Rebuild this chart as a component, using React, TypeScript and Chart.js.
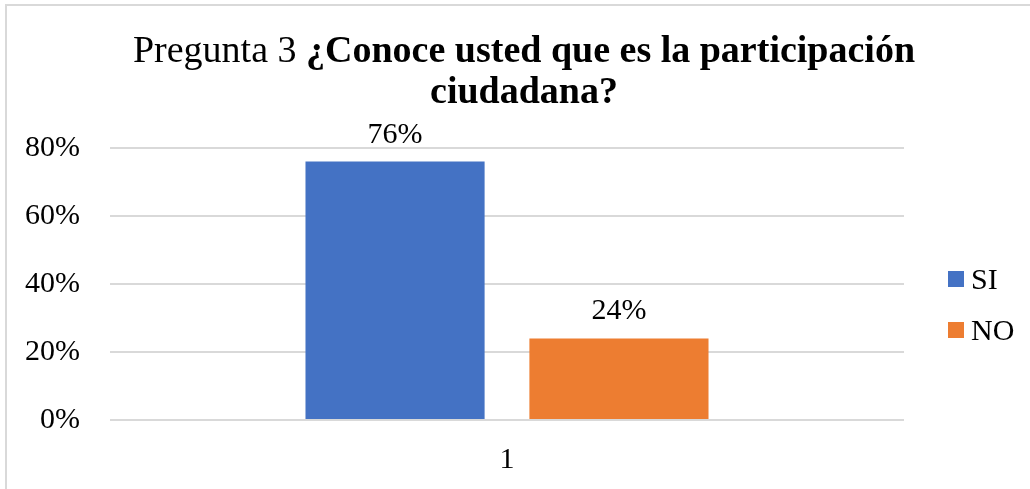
import React, { useEffect, useRef } from "react";
import { Chart, registerables } from "chart.js";

Chart.register(...registerables);

const categories = ["1"];
const seriesLabels = ["SI", "NO"];
const siValues = [0.76];
const noValues = [0.24];
const seriesColors = ["#4472C4", "#ED7D31"];
const yTickValues = [0, 0.2, 0.4, 0.6, 0.8];
const titlePlain = "Pregunta 3 ";
const titleBoldLine1 = "¿Conoce usted que es la participación";
const titleBoldLine2 = "ciudadana?";

const FONT = "'Liberation Serif', 'Times New Roman', serif";

const pct = (v: number) => `${Math.round(v * 100)}%`;

const dataLabelPlugin = {
  id: "dataLabels",
  afterDatasetsDraw(chart: any) {
    const ctx = chart.ctx;
    ctx.save();
    ctx.font = `30px ${FONT}`;
    ctx.fillStyle = "#000";
    ctx.textAlign = "center";
    ctx.textBaseline = "alphabetic";
    chart.data.datasets.forEach((ds: any, di: number) => {
      const meta = chart.getDatasetMeta(di);
      meta.data.forEach((bar: any, i: number) => {
        ctx.fillText(pct(ds.data[i]), bar.x, bar.y - 19);
      });
    });
    ctx.restore();
  },
};

const sideLegendPlugin = {
  id: "sideLegend",
  afterDraw(chart: any) {
    const ctx = chart.ctx;
    const area = chart.chartArea;
    const x = area.right + 44;
    const top = area.top + 123;
    ctx.save();
    ctx.font = `30px ${FONT}`;
    ctx.textAlign = "left";
    ctx.textBaseline = "alphabetic";
    chart.data.datasets.forEach((ds: any, i: number) => {
      const y = top + i * 51;
      ctx.fillStyle = ds.backgroundColor;
      ctx.fillRect(x, y, 16, 16);
      ctx.fillStyle = "#000";
      ctx.fillText(ds.label, x + 23, y + 18);
    });
    ctx.restore();
  },
};

export default function App() {
  const canvasRef = useRef<HTMLCanvasElement | null>(null);

  useEffect(() => {
    if (!canvasRef.current) return;
    const chart = new Chart(canvasRef.current, {
      type: "bar",
      data: {
        labels: categories,
        datasets: [
          {
            label: seriesLabels[0],
            data: siValues,
            backgroundColor: seriesColors[0],
            categoryPercentage: 0.564,
            barPercentage: 0.8,
          },
          {
            label: seriesLabels[1],
            data: noValues,
            backgroundColor: seriesColors[1],
            categoryPercentage: 0.564,
            barPercentage: 0.8,
          },
        ],
      },
      options: {
        responsive: false,
        animation: false,
        layout: { padding: { top: 148, right: 126, left: 0, bottom: 0 } },
        plugins: {
          legend: { display: false },
          title: { display: false },
          tooltip: { enabled: false },
        },
        scales: {
          x: {
            grid: { display: false, drawTicks: false },
            border: { display: false },
            ticks: {
              padding: 22,
              color: "#000",
              font: { family: FONT, size: 30 },
            },
            afterFit: (s: any) => {
              s.height = 69;
            },
          },
          y: {
            min: 0,
            max: 0.8,
            afterBuildTicks: (s: any) => {
              s.ticks = yTickValues.map((v) => ({ value: v }));
            },
            grid: { color: "#d9d9d9", lineWidth: 2, drawTicks: false },
            border: { display: false },
            ticks: {
              padding: 30,
              color: "#000",
              font: { family: FONT, size: 30 },
              callback: (v: any) => pct(Number(v)),
            },
            afterFit: (s: any) => {
              s.width = 110;
            },
          },
        },
      },
      plugins: [dataLabelPlugin, sideLegendPlugin],
    } as any);
    return () => chart.destroy();
  }, []);

  return (
    <div
      style={{
        position: "fixed",
        left: 0,
        top: 0,
        width: 1030,
        height: 489,
        overflow: "hidden",
        background: "#fff",
      }}
    >
      <div
        style={{
          position: "absolute",
          left: 5,
          top: 4,
          width: 1200,
          height: 700,
          borderLeft: "2px solid #d9d9d9",
          borderTop: "2px solid #d9d9d9",
        }}
      />
      <canvas
        ref={canvasRef}
        width={1030}
        height={489}
        style={{ position: "absolute", left: 0, top: 0, width: 1030, height: 489 }}
      />
      <div
        style={{
          position: "absolute",
          left: 24,
          top: 29,
          width: 1000,
          textAlign: "center",
          fontFamily: FONT,
          fontSize: 38,
          lineHeight: "41px",
          color: "#000",
          whiteSpace: "nowrap",
        }}
      >
        <span>{titlePlain}</span>
        <span style={{ fontWeight: "bold" }}>{titleBoldLine1}</span>
        <br />
        <span style={{ fontWeight: "bold" }}>{titleBoldLine2}</span>
      </div>
    </div>
  );
}
